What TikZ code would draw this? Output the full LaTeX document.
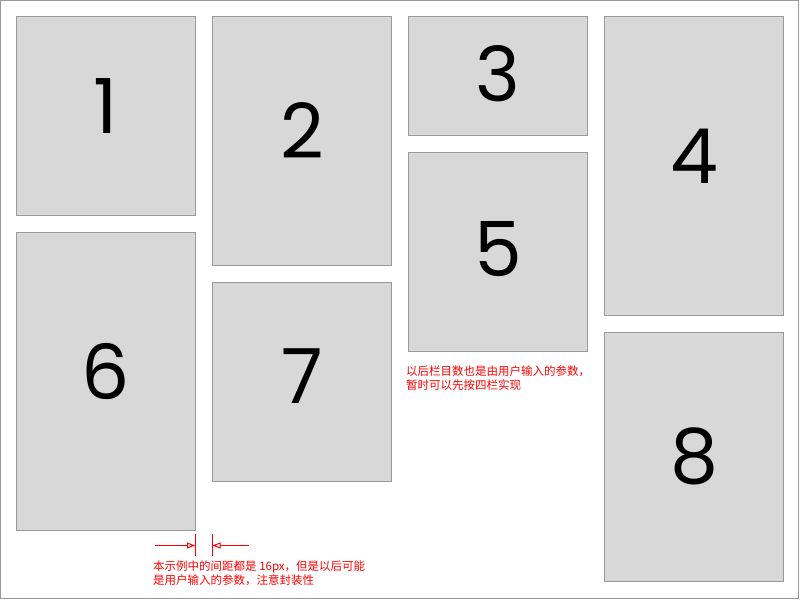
\documentclass[tikz,border=0pt]{standalone}
\usepackage{fontspec}
\newfontfamily\digitfont{Poppins}
\newfontfamily\cjk{Noto Sans CJK SC}
\usetikzlibrary{arrows.meta}
\definecolor{panelfill}{HTML}{D8D8D8}
\definecolor{panelline}{HTML}{999999}
\tikzset{
	panel/.style = {draw=panelline, fill=panelfill, line width=1pt, inner sep=0pt, anchor=north west},
	digit/.style = {font=\digitfont\fontsize{76}{76}\selectfont, inner sep=0pt},
	note/.style = {font=\cjk\fontsize{11.5}{13.5}\selectfont, text=red, align=left, inner sep=0pt, anchor=north west},
	gapline/.style = {red, line width=1pt},
	gaparrow/.style = {red, line width=1pt, -{Triangle[open, length=8pt, width=6pt]}},
}
\begin{document}
\begin{tikzpicture}[x=1pt, y=-1pt]
	\path[use as bounding box] (0,0) rectangle (800,600);
	\draw[panelline, line width=1pt] (0.5,0.5) rectangle (798.5,598.5);
	% panels, column by column
	\node[panel, minimum width=179pt, minimum height=199pt] (p1) at (16,16) {};
	\node[panel, minimum width=179pt, minimum height=298pt] (p6) at (16,232) {};
	\node[panel, minimum width=179pt, minimum height=249pt] (p2) at (212,16) {};
	\node[panel, minimum width=179pt, minimum height=199pt] (p7) at (212,282) {};
	\node[panel, minimum width=179pt, minimum height=119pt] (p3) at (408,16) {};
	\node[panel, minimum width=179pt, minimum height=199pt] (p5) at (408,152) {};
	\node[panel, minimum width=179pt, minimum height=299pt] (p4) at (604,16) {};
	\node[panel, minimum width=179pt, minimum height=249pt] (p8) at (604,332) {};
	% numbers
	\node[digit] (n1) at ([yshift=9.5pt]p1.center) {1};
	\node[digit] (n2) at ([yshift=10pt]p2.center) {2};
	\node[digit] (n3) at ([yshift=2pt]p3.center) {3};
	\node[digit] (n4) at ([yshift=9.5pt]p4.center) {4};
	\node[digit] (n5) at ([yshift=3pt]p5.center) {5};
	\node[digit] (n6) at ([yshift=9.5pt]p6.center) {6};
	\node[digit] (n7) at ([yshift=5.5pt]p7.center) {7};
	\node[digit] (n8) at ([yshift=1pt]p8.center) {8};
	% notes
	\node[note] (colnote) at (406,366) {以后栏目数也是由用户输入的参数，\\暂时可以先按四栏实现};
	\node[note] (gapnote) at (153,561) {本示例中的间距都是 16px，但是以后可能\\是用户输入的参数，注意封装性};
	% gap marker
	\coordinate (barLtop) at (195.5,534);
	\coordinate (barLbot) at (195.5,556);
	\coordinate (barRtop) at (212.5,534);
	\coordinate (barRbot) at (212.5,556);
	\coordinate (arrLfrom) at (155,545.5);
	\coordinate (arrLto) at (195,545.5);
	\coordinate (arrRfrom) at (249,545.5);
	\coordinate (arrRto) at (212.5,545.5);
	\draw[gapline] (barLtop) -- (barLbot);
	\draw[gapline] (barRtop) -- (barRbot);
	\draw[gaparrow] (arrLfrom) -- (arrLto);
	\draw[gaparrow] (arrRfrom) -- (arrRto);
\end{tikzpicture}
\end{document}
